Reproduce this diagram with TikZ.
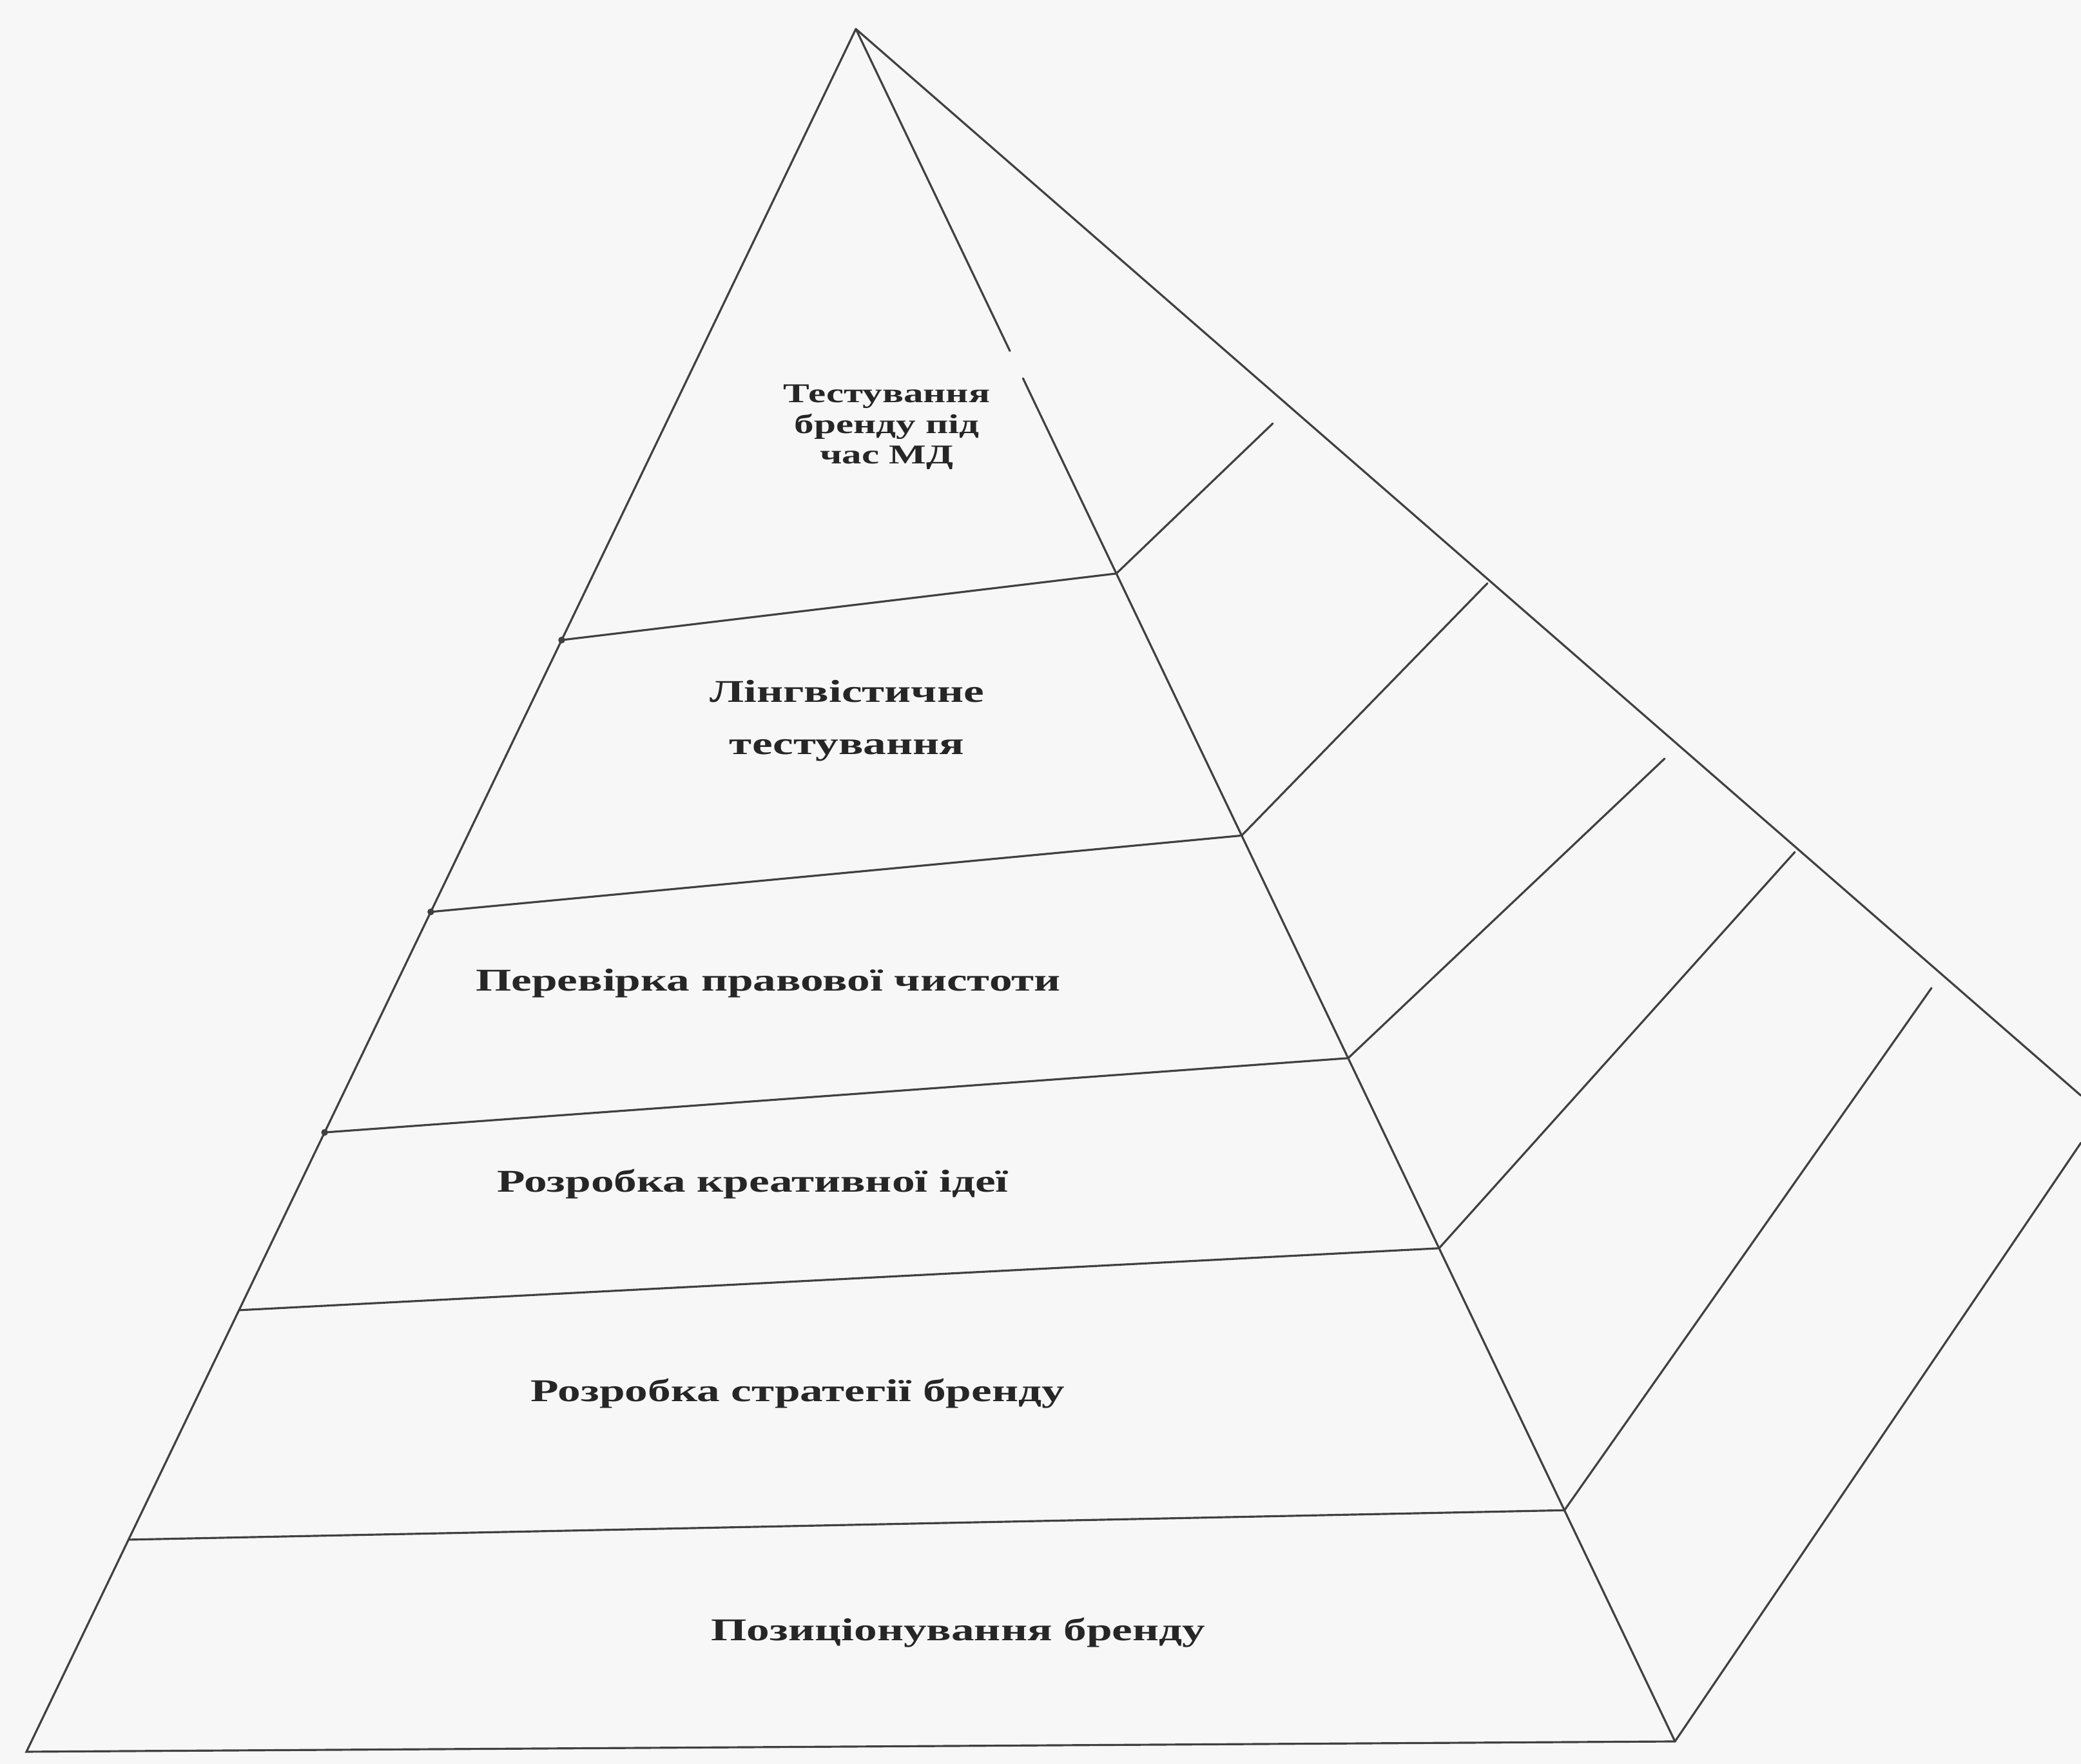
\documentclass[tikz,border=0pt]{standalone}
\usepackage{fontspec}
\setmainfont[FakeStretch=1.45]{Liberation Serif}
\usetikzlibrary{calc}

\colorlet{page}{black!3}
\colorlet{ink}{black!75}
\tikzstyle{edge} = [draw, ink, line width=0.9pt, line cap=round]
\tikzstyle{layer} = [font=\fontsize{14}{23}\selectfont\bfseries, text=black!85, align=center, inner sep=0pt]
\tikzstyle{dot} = [circle, fill=ink, minimum size=3pt, inner sep=0pt]
\def\corners{{(13.28,26.92)/A}, {(0.41,0.19)/BL}, {(25.99,0.35)/BR}, {(32.29,10.37)/E}, {(32.29,9.64)/F}}
\def\backends{{(19.75,20.80)/b1}, {(23.08,18.32)/b2}, {(25.83,15.60)/b3}, {(27.85,14.15)/b4}, {(29.97,12.04)/b5}}
\def\levels{1/0.3547/0.318, 2/0.5125/0.471, 3/0.6405/0.601, 4/0.7437/0.712, 5/0.8769/0.865}

\begin{document}
\begin{tikzpicture}

  % The page
  \useasboundingbox (0,0) rectangle (32.29,27.37);
  \fill[page] (0,0) rectangle (32.29,27.37);

  % The corners of the pyramid
  \foreach \pos/\name in \corners
    \node[coordinate] (\name) at \pos {};
  \foreach \pos/\name in \backends
    \node[coordinate] (\name) at \pos {};

  % Where the layers meet the front edges
  \foreach \i/\tl/\tr in \levels {
    \node[coordinate] (l\i) at ($(A)!\tl!(BL)$) {};
    \node[coordinate] (r\i) at ($(A)!\tr!(BR)$) {};
  }
  \node[coordinate] (g1) at ($(A)!0.188!(BR)$) {};
  \node[coordinate] (g2) at ($(A)!0.204!(BR)$) {};

  % The outline
  \path[edge] (A) -- (BL) -- (BR);
  \path[edge] (A) -- (g1);
  \path[edge] (g2) -- (BR);
  \path[edge] (A) -- (E);
  \path[edge] (BR) -- (F);

  % The layers and their sides
  \foreach \i in {1,...,5} {
    \path[edge] (l\i) -- (r\i);
    \path[edge] (r\i) -- (b\i);
  }
  \foreach \i in {1,2,3}
    \node[dot] (dl\i) at (l\i) {};

  % The texts
  \node[layer, font=\fontsize{12}{13.5}\selectfont\bfseries] (test) at (13.76,20.74) {Тестування\\бренду під\\час МД};
  \node[layer] (ling) at (13.14,16.19) {Лінгвістичне\\тестування};
  \node[layer] (pravo) at (11.92,12.11) {Перевірка правової чистоти};
  \node[layer] (kreat) at (11.68,9.00) {Розробка креативної ідеї};
  \node[layer] (strat) at (12.38,5.75) {Розробка стратегії бренду};
  \node[layer] (pozy) at (14.87,2.04) {Позиціонування бренду};

\end{tikzpicture}
\end{document}
